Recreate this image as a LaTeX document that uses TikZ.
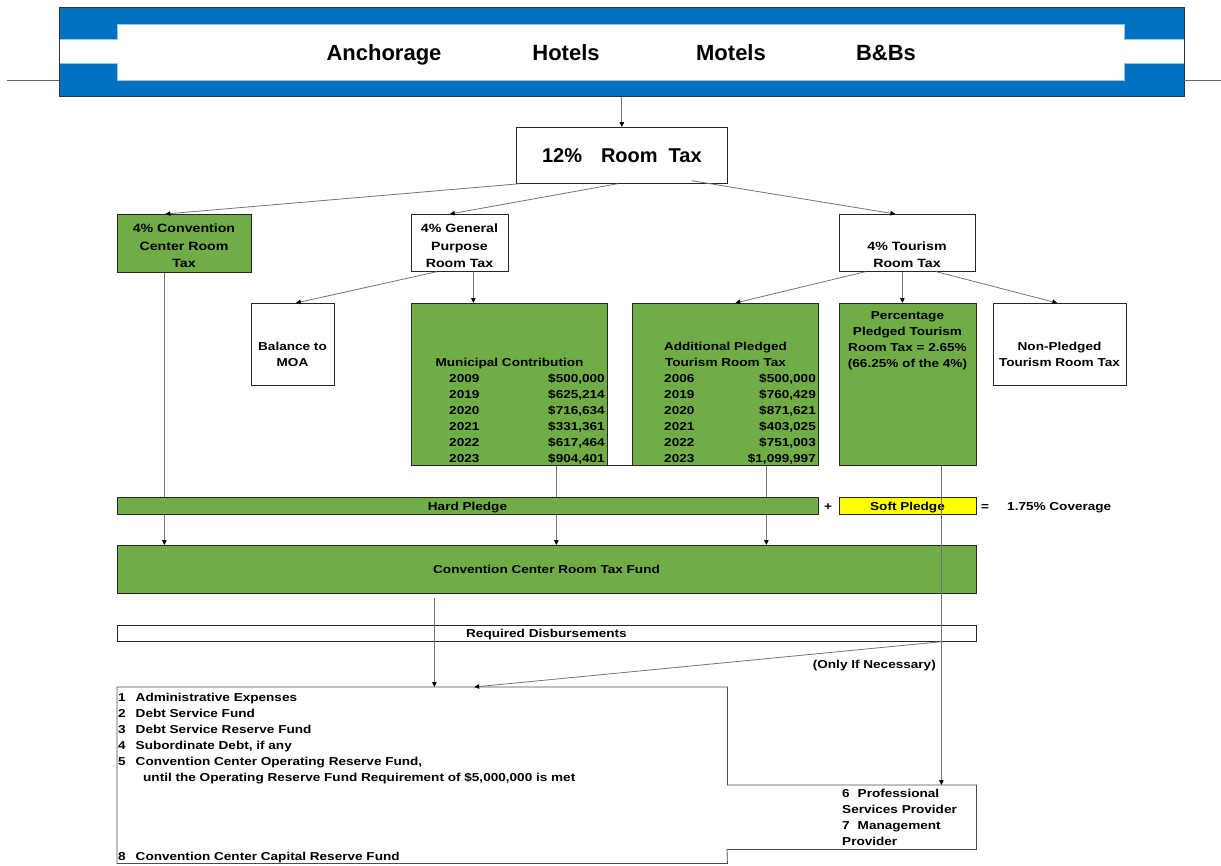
\documentclass[tikz,border=0pt]{standalone}
\usepackage{fontspec}
\setmainfont{Liberation Sans}
\newfontfamily\wsf[FakeStretch=1.18]{Liberation Sans}
\usetikzlibrary{arrows.meta}
\definecolor{hdrblue}{RGB}{0,112,192}
\definecolor{pgreen}{RGB}{112,173,71}
\definecolor{pyellow}{RGB}{255,255,0}
\pgfdeclarelayer{bg}
\pgfsetlayers{bg,main}
\begin{document}
\begin{tikzpicture}[x=1pt,y=-1pt,
  box/.style={draw=black!85, line width=0.7pt, inner sep=0pt, anchor=north west, align=center},
  gbox/.style={box, fill=pgreen},
  lbl/.style={font=\wsf\bfseries\fontsize{11.5}{16}\selectfont, inner sep=0pt, align=center},
  blbl/.style={lbl, anchor=base},
  tlbl/.style={font=\wsf\bfseries\fontsize{12}{17.5}\selectfont, inner sep=0pt, align=center},
  row/.style={font=\wsf\bfseries\fontsize{11.5}{16}\selectfont, inner sep=0pt},
  hdrtext/.style={font=\bfseries\fontsize{22}{26}\selectfont, inner sep=0pt, anchor=base},
  conn/.style={draw=black!55, line width=0.8pt, -{Triangle[length=5pt,width=4.5pt,color=black]}},
  edge/.style={draw=black!70, line width=0.8pt}
]
\useasboundingbox (0,0) rectangle (1221,865);

% header
\node[box, fill=hdrblue, draw=black!80, minimum width=1125pt, minimum height=89pt] (hdr) at (59,7) {};
\fill[white, draw=hdrblue!40, line width=0.8pt] (59,39) -- (117,39) -- (117,24) -- (1124,24) -- (1124,39) -- (1184,39) -- (1184,63) -- (1124,63) -- (1124,80) -- (117,80) -- (117,63) -- (59,63) -- cycle;
\draw[black!80, line width=0.8pt] (hdr.north west) rectangle (hdr.south east);
\draw[edge, black!60] (7,80) -- (59,80);
\draw[edge, black!60] (1184,80) -- (1221,80);
\node[hdrtext] (anc) at (384,60) {Anchorage};
\node[hdrtext] (hot) at (566,60) {Hotels};
\node[hdrtext] (mot) at (731,60) {Motels};
\node[hdrtext] (bnb) at (886,60) {B\&Bs};

% level 1
\node[box, minimum width=211pt, minimum height=56pt, font=\bfseries\fontsize{20}{24}\selectfont] (rt) at (516,127) {12\%\hspace{19pt}Room\hspace{11pt}Tax};

% level 2
\node[gbox, minimum width=134pt, minimum height=58pt] (cc) at (117,214) {};
\node[tlbl] (cct) at (184,246) {4\% Convention\\Center Room\\Tax};
\node[box, minimum width=97pt, minimum height=57pt] (gp) at (411,214) {};
\node[tlbl] (gpt) at (459.5,246) {4\% General\\Purpose\\Room Tax};
\node[box, minimum width=136pt, minimum height=57pt] (tr) at (839,214) {};
\node[tlbl] (trt) at (907,254.5) {4\% Tourism\\Room Tax};

% level 3
\node[box, minimum width=83pt, minimum height=82pt] (moa) at (251,303) {};
\node[lbl] (moat) at (292.5,354) {Balance to\\MOA};
\node[gbox, minimum width=196pt, minimum height=162pt] (mc) at (411,303) {};
\node[gbox, minimum width=186pt, minimum height=162pt] (ap) at (632,303) {};
\node[gbox, minimum width=137pt, minimum height=162pt] (pp) at (839,303) {};
\node[box, minimum width=133pt, minimum height=82pt] (np) at (993,303) {};
\draw[black!85, line width=0.7pt] (mc.south east) -- (ap.south west);

\node[row, anchor=base] (mct) at (509.5,366) {Municipal Contribution};
\node[row, anchor=base west] (mcy1) at (449,382) {2009};
\node[row, anchor=base west] (mcy2) at (449,398) {2019};
\node[row, anchor=base west] (mcy3) at (449,414) {2020};
\node[row, anchor=base west] (mcy4) at (449,430) {2021};
\node[row, anchor=base west] (mcy5) at (449,446) {2022};
\node[row, anchor=base west] (mcy6) at (449,462) {2023};
\node[row, anchor=base east] (mca1) at (605,382) {\$500,000};
\node[row, anchor=base east] (mca2) at (605,398) {\$625,214};
\node[row, anchor=base east] (mca3) at (605,414) {\$716,634};
\node[row, anchor=base east] (mca4) at (605,430) {\$331,361};
\node[row, anchor=base east] (mca5) at (605,446) {\$617,464};
\node[row, anchor=base east] (mca6) at (605,462) {\$904,401};

\node[lbl] (apt) at (725.5,354) {Additional Pledged\\Tourism Room Tax};
\node[row, anchor=base west] (apy1) at (664,382) {2006};
\node[row, anchor=base west] (apy2) at (664,398) {2019};
\node[row, anchor=base west] (apy3) at (664,414) {2020};
\node[row, anchor=base west] (apy4) at (664,430) {2021};
\node[row, anchor=base west] (apy5) at (664,446) {2022};
\node[row, anchor=base west] (apy6) at (664,462) {2023};
\node[row, anchor=base east] (apa1) at (816,382) {\$500,000};
\node[row, anchor=base east] (apa2) at (816,398) {\$760,429};
\node[row, anchor=base east] (apa3) at (816,414) {\$871,621};
\node[row, anchor=base east] (apa4) at (816,430) {\$403,025};
\node[row, anchor=base east] (apa5) at (816,446) {\$751,003};
\node[row, anchor=base east] (apa6) at (816,462) {\$1,099,997};

\node[lbl] (ppt) at (907.5,341) {Percentage\\Pledged Tourism\\Room Tax = 2.65\%\\(66.25\% of the 4\%)};
\node[lbl] (npt) at (1059.5,354) {Non-Pledged\\Tourism Room Tax};

% pledges and fund
\node[gbox, minimum width=701pt, minimum height=17pt] (hp) at (117,497) {};
\node[blbl] (hpt) at (467.5,510) {Hard Pledge};
\node[blbl] (plus) at (828,510) {+};
\node[box, fill=pyellow, minimum width=137pt, minimum height=17pt] (sp) at (839,497) {};
\node[blbl] (spt) at (907.5,510) {Soft Pledge};
\node[blbl] (eq) at (985,510) {=};
\node[lbl, anchor=base west] (cov) at (1007,510) {1.75\% Coverage};
\node[gbox, minimum width=859pt, minimum height=48pt] (fund) at (117,545) {};
\node[blbl] (fundt) at (546.5,573) {Convention Center Room Tax Fund};
\node[box, minimum width=859pt, minimum height=16pt] (rd) at (117,625) {};
\node[blbl] (rdt) at (546.5,637) {Required Disbursements};
\node[lbl, anchor=base east] (oin) at (936,668) {(Only If Necessary)};

% disbursement list
\node[inner sep=0pt, minimum width=610pt, minimum height=176pt, anchor=north west] (lb) at (117,687) {};
\node[inner sep=0pt, minimum width=249pt, minimum height=64pt, anchor=north west] (rb) at (727,785) {};
\draw[edge] (lb.north west) -- (lb.north east) -- (lb.north east |- rb.north) -- (rb.north east) -- (rb.south east) -- (rb.south west) -- (lb.south east) -- (lb.south west) -- cycle;
\node[row, anchor=base west] (l1) at (118,701) {1\hspace{10pt}Administrative Expenses};
\node[row, anchor=base west] (l2) at (118,717) {2\hspace{10pt}Debt Service Fund};
\node[row, anchor=base west] (l3) at (118,733) {3\hspace{10pt}Debt Service Reserve Fund};
\node[row, anchor=base west] (l4) at (118,749) {4\hspace{10pt}Subordinate Debt, if any};
\node[row, anchor=base west] (l5) at (118,765) {5\hspace{10pt}Convention Center Operating Reserve Fund,};
\node[row, anchor=base west] (l5b) at (143,781) {until the Operating Reserve Fund Requirement of \$5,000,000 is met};
\node[row, anchor=base west] (l8) at (118,860) {8\hspace{10pt}Convention Center Capital Reserve Fund};
\node[row, anchor=base west] (r1) at (842,797) {6\hspace{8pt}Professional};
\node[row, anchor=base west] (r2) at (842,813) {Services Provider};
\node[row, anchor=base west] (r3) at (842,829) {7\hspace{8pt}Management};
\node[row, anchor=base west] (r4) at (842,845) {Provider};

% helper coordinates
\coordinate (ccx) at ([xshift=-20pt]cc.south);
\coordinate (mcx) at ([xshift=47pt]mc.south);
\coordinate (apx) at ([xshift=41pt]ap.south);
\coordinate (ppx) at ([xshift=33.5pt]pp.south);
\coordinate (gpx) at ([xshift=13.5pt]gp.south);
\coordinate (trx) at ([xshift=-5pt]tr.south);
\coordinate (fdx) at ([xshift=-112.5pt,yshift=-4pt]fund.south);

% connectors
\draw[conn] (hdr.south) -- (rt.north);
\draw[conn] ([xshift=4pt]rt.south west) -- ([xshift=-19pt]cc.north);
\draw[conn] ([xshift=-4pt]rt.south) -- ([xshift=-10pt]gp.north);
\draw[conn] ([xshift=70pt,yshift=3pt]rt.south) -- ([xshift=-12pt]tr.north);
\draw[conn] ([xshift=-23pt]gp.south) -- ([xshift=3pt]moa.north);
\draw[conn] (gpx) -- (gpx |- mc.north);
\draw[conn] ([xshift=-42pt]tr.south) -- ([xshift=10pt]ap.north);
\draw[conn] (trx) -- (trx |- pp.north);
\draw[conn] ([xshift=29pt]tr.south) -- ([xshift=-2.5pt]np.north);
\begin{pgfonlayer}{bg}
\draw[conn] (ccx) -- (ccx |- fund.north);
\draw[conn] (mcx) -- (mcx |- fund.north);
\draw[conn] (apx) -- (apx |- fund.north);
\end{pgfonlayer}
\draw[conn] (ppx) -- (ppx |- rb.north);
\draw[conn] (fdx) -- (fdx |- lb.north);
\draw[conn] (ppx |- rd.south) -- ([xshift=52pt]lb.north);
\end{tikzpicture}
\end{document}
